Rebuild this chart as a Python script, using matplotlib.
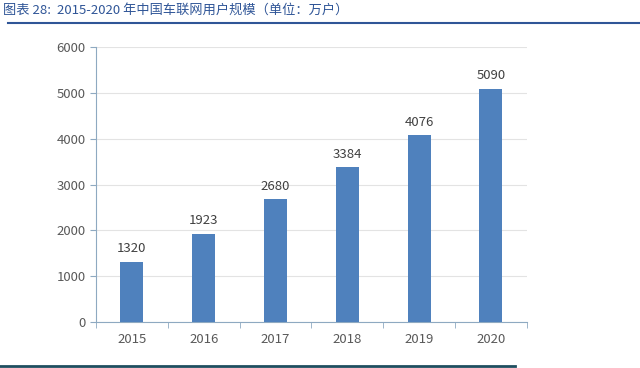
import matplotlib.pyplot as plt
from matplotlib.lines import Line2D

# data
years = ['2015', '2016', '2017', '2018', '2019', '2020']
users = [1320, 1923, 2680, 3384, 4076, 5090]
yticks = [0, 1000, 2000, 3000, 4000, 5000, 6000]

plt.rcParams['font.family'] = ['Noto Sans CJK SC', 'DejaVu Sans']

fig = plt.figure(figsize=(6.4, 3.68), dpi=100)
ax = fig.add_axes([0.15, 0.125, 0.673, 0.747])

x = range(len(years))
ax.bar(x, users, width=0.32, color='#4F81BD', zorder=3)
for i, v in enumerate(users):
    ax.text(i, v + 140, str(v), ha='center', va='bottom', fontsize=9.5, color='#404040')

ax.set_xlim(-0.5, len(years) - 0.5)
ax.set_ylim(0, 6000)
ax.set_yticks(yticks)
ax.set_xticks(x)
ax.set_xticklabels(years)
ax.set_xticks([i - 0.5 for i in range(len(years) + 1)], minor=True)
ax.tick_params(axis='x', which='major', length=0, pad=8, labelsize=9.5, labelcolor='#595959')
ax.tick_params(axis='x', which='minor', length=4, color='#8EA9C1', direction='out')
ax.tick_params(axis='y', length=4, color='#8EA9C1', labelsize=9.5, labelcolor='#595959')
ax.grid(axis='y', color='#E3E3E3', linewidth=0.8, zorder=0)
for s in ['top', 'right']:
    ax.spines[s].set_visible(False)
for s in ['left', 'bottom']:
    ax.spines[s].set_color('#8EA9C1')

fig.text(0.005, 0.972, '图表 28:  2015-2020 年中国车联网用户规模（单位：万户）',
         fontsize=9.5, color='#2F5597', style='italic', va='center')
fig.add_artist(Line2D([0.012, 1.0], [0.937, 0.937], color='#2F5597', linewidth=1.5))
fig.add_artist(Line2D([0.0, 0.805], [0.006, 0.006], color='#1F4E5F', linewidth=2))

fig.savefig('out.png', dpi=100)
